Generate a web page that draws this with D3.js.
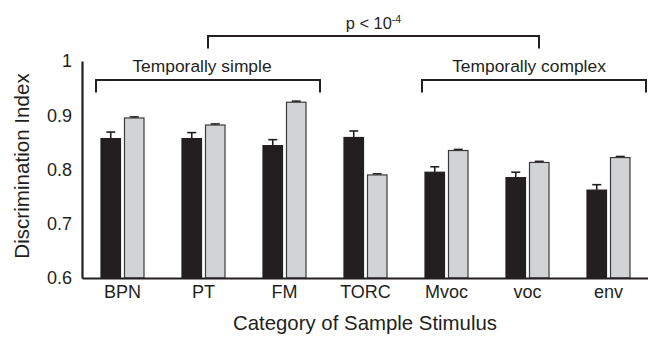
<!DOCTYPE html>
<html><head><meta charset="utf-8">
<script src="https://cdn.jsdelivr.net/npm/d3@7"></script>
<style>
body{margin:0;background:#fff;}
text{font-family:"Liberation Sans",Arial,Helvetica,sans-serif;fill:#231f20;}
</style></head>
<body><svg id="c" width="648" height="337"></svg>
<script>
const categories = ["BPN","PT","FM","TORC","Mvoc","voc","env"];
const series = ["black","gray"];
const blackValues = [0.857, 0.857, 0.844, 0.859, 0.795, 0.785, 0.762];
const blackErrors = [0.012, 0.011, 0.011, 0.012, 0.010, 0.010, 0.010];
const grayValues  = [0.895, 0.882, 0.924, 0.790, 0.835, 0.813, 0.822];
const grayErrors  = [0.002, 0.002, 0.002, 0.002, 0.002, 0.002, 0.002];
const yTicks = [0.6, 0.7, 0.8, 0.9, 1];
const yTickLabels = ["0.6","0.7","0.8","0.9","1"];

const svg = d3.select("#c");
const x = d3.scaleBand().domain(categories).range([82, 649]).padding(0);
const xi = d3.scaleBand().domain(series).range([-21.5, 21.5]).paddingInner(0.17).paddingOuter(0);
const y = d3.scaleLinear().domain([0.6, 1]).range([278, 61]);
const colors = {black:"#231f20", gray:"#d1d3d4"};
const FONT = "Liberation Sans, Arial, sans-serif";

const data = [];
categories.forEach((c,i)=>{
  data.push({cat:c, s:"black", v:blackValues[i], e:blackErrors[i]});
  data.push({cat:c, s:"gray", v:grayValues[i], e:grayErrors[i]});
});

const cx = d => x(d.cat) + x.bandwidth()/2 + xi(d.s);

// error bars
const eb = svg.append("g");
data.forEach(d=>{
  const mx = cx(d) + xi.bandwidth()/2;
  eb.append("line").attr("x1",mx).attr("x2",mx).attr("y1",y(d.v)).attr("y2",y(d.v+d.e))
    .attr("stroke","#231f20").attr("stroke-width",1.6);
  eb.append("line").attr("x1",mx-4.5).attr("x2",mx+4.5).attr("y1",y(d.v+d.e)).attr("y2",y(d.v+d.e))
    .attr("stroke","#231f20").attr("stroke-width",1.6);
});

// bars
svg.append("g").selectAll("rect").data(data).join("rect")
  .attr("x", d=>cx(d))
  .attr("width", xi.bandwidth())
  .attr("y", d=>y(d.v))
  .attr("height", d=>y(0.6)-y(d.v))
  .attr("fill", d=>colors[d.s])
  .attr("stroke", d=> d.s==="gray" ? "#3b3b3b" : "#231f20")
  .attr("stroke-width", 1.2);

// axes
const yAxis = d3.axisLeft(y).tickValues(yTicks).tickFormat((d,i)=>yTickLabels[i]).tickSize(0).tickPadding(10);
const gy = svg.append("g").attr("transform","translate(82,0)").call(yAxis);
gy.select(".domain").attr("stroke","#231f20").attr("stroke-width",2.2);
gy.selectAll("text").attr("font-size",18).attr("font-family",FONT).attr("fill","#231f20");

const xAxis = d3.axisBottom(x).tickSize(0).tickPadding(7.5);
const gx = svg.append("g").attr("transform","translate(0,278)").call(xAxis);
gx.select(".domain").attr("stroke","#231f20").attr("stroke-width",2.2);
gx.selectAll("text").attr("font-size",18).attr("font-family",FONT).attr("fill","#231f20");

// axis titles
svg.append("text").attr("x",365).attr("y",330).attr("text-anchor","middle").attr("font-size",20.4).text("Category of Sample Stimulus");
svg.append("text").attr("transform","translate(29,166) rotate(-90)").attr("text-anchor","middle").attr("font-size",20.6).text("Discrimination Index");

// brackets
function bracket(x1, x2, yl, legY){
  svg.append("path").attr("d",`M${x1},${legY}V${yl}H${x2}V${legY}`).attr("fill","none").attr("stroke","#231f20").attr("stroke-width",2);
}
bracket(x("BPN")+14, x("FM")+76, 80, 92.5);
svg.append("text").attr("x",x("BPN")+120).attr("y",72).attr("text-anchor","middle").attr("font-size",17.4).text("Temporally simple");
bracket(x("Mvoc")+16, x("env")+78, 80, 92.5);
svg.append("text").attr("x",x("Mvoc")+123).attr("y",72).attr("text-anchor","middle").attr("font-size",17.4).text("Temporally complex");
bracket(x("PT")+45, x("voc")+52, 36, 48.5);
const pt = svg.append("text").attr("x",(x("PT")+45 + x("voc")+52)/2).attr("y",29).attr("text-anchor","middle").attr("font-size",16.4);
pt.append("tspan").text("p < 10");
pt.append("tspan").attr("dy",-6).attr("font-size",10.5).text("-4");
</script></body></html>
